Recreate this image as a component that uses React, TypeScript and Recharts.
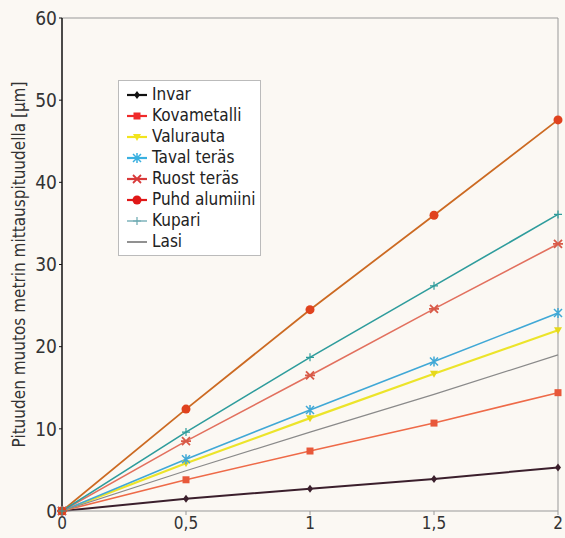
import { LineChart, Line, XAxis, YAxis, ReferenceLine } from 'recharts';

const xValues = [0, 0.5, 1, 1.5, 2];
const invar = [0, 1.5, 2.7, 3.9, 5.3];
const kovametalli = [0, 3.8, 7.3, 10.7, 14.4];
const valurauta = [0, 5.8, 11.3, 16.7, 22];
const tavalTeras = [0, 6.3, 12.3, 18.2, 24.1];
const ruostTeras = [0, 8.5, 16.5, 24.6, 32.5];
const puhdAlumiini = [0, 12.4, 24.5, 36, 47.6];
const kupari = [0, 9.6, 18.7, 27.4, 36.1];
const lasi = [0, 4.9, 9.6, 14.2, 19];
const yTicks = [0, 10, 20, 30, 40, 50, 60];

const data = xValues.map((x, i) => ({
  x,
  invar: invar[i],
  kovametalli: kovametalli[i],
  valurauta: valurauta[i],
  tavalTeras: tavalTeras[i],
  ruostTeras: ruostTeras[i],
  puhdAlumiini: puhdAlumiini[i],
  kupari: kupari[i],
  lasi: lasi[i],
}));

const FONT = '"DejaVu Sans Condensed", "Liberation Sans Narrow", Arial, sans-serif';

type Marker = 'diamond' | 'square' | 'tri' | 'x' | 'star' | 'circle' | 'plus' | 'none';

function drawMarker(kind: Marker, cx: number, cy: number, color: string, key?: string) {
  switch (kind) {
    case 'diamond':
      return <path key={key} d={`M${cx},${cy - 4}L${cx + 3},${cy}L${cx},${cy + 4}L${cx - 3},${cy}Z`} fill={color} />;
    case 'square':
      return <rect key={key} x={cx - 3.5} y={cy - 3.5} width={7} height={7} fill={color} />;
    case 'tri':
      return <path key={key} d={`M${cx - 4},${cy - 3}L${cx + 4},${cy - 3}L${cx},${cy + 4}Z`} fill={color} />;
    case 'x':
      return (
        <path key={key} d={`M${cx - 4},${cy - 4}L${cx + 4},${cy + 4}M${cx - 4},${cy + 4}L${cx + 4},${cy - 4}M${cx},${cy - 5}L${cx},${cy + 5}`} stroke={color} strokeWidth={1.5} fill="none" />
      );
    case 'star':
      return (
        <path key={key} d={`M${cx - 4},${cy - 4}L${cx + 4},${cy + 4}M${cx - 4},${cy + 4}L${cx + 4},${cy - 4}M${cx - 5},${cy}L${cx + 5},${cy}`} stroke={color} strokeWidth={1.8} fill="none" />
      );
    case 'circle':
      return <circle key={key} cx={cx} cy={cy} r={4.5} fill={color} />;
    case 'plus':
      return <path key={key} d={`M${cx - 4},${cy}L${cx + 4},${cy}M${cx},${cy - 4}L${cx},${cy + 4}`} stroke={color} strokeWidth={1.2} fill="none" />;
    default:
      return <g key={key} />;
  }
}

const series: { key: string; name: string; color: string; marker: Marker; markerColor: string; width: number }[] = [
  { key: 'invar', name: 'Invar', color: '#3b1f2c', marker: 'diamond', markerColor: '#3b1f2c', width: 2 },
  { key: 'kovametalli', name: 'Kovametalli', color: '#ee6a48', marker: 'square', markerColor: '#e8583a', width: 1.6 },
  { key: 'valurauta', name: 'Valurauta', color: '#ece42a', marker: 'tri', markerColor: '#e6d81a', width: 2.2 },
  { key: 'tavalTeras', name: 'Taval teräs', color: '#40a8d6', marker: 'x', markerColor: '#40a8d6', width: 1.6 },
  { key: 'ruostTeras', name: 'Ruost teräs', color: '#e2705e', marker: 'star', markerColor: '#d85a48', width: 1.6 },
  { key: 'puhdAlumiini', name: 'Puhd alumiini', color: '#cc6a22', marker: 'circle', markerColor: '#e0421e', width: 1.8 },
  { key: 'kupari', name: 'Kupari', color: '#2e9c9c', marker: 'plus', markerColor: '#2e9c9c', width: 1.6 },
  { key: 'lasi', name: 'Lasi', color: '#8a8a8a', marker: 'none', markerColor: '#8a8a8a', width: 1.2 },
];

const legendColors: Record<string, string> = {
  invar: '#111111',
  kovametalli: '#f02a2a',
  valurauta: '#f2e41e',
  tavalTeras: '#3ab0e0',
  ruostTeras: '#d83a3a',
  puhdAlumiini: '#e01818',
  kupari: '#6aa8b0',
  lasi: '#555555',
};

function LegendBox() {
  return (
    <div
      style={{
        position: 'absolute',
        left: 118,
        top: 80,
        background: '#ffffff',
        border: '1px solid #bbb',
        padding: '3px 4px 3px 6px',
        fontFamily: FONT,
        fontSize: 17,
        color: '#222',
        lineHeight: '21px',
        boxSizing: 'border-box',
      }}
    >
      {series.map((s) => (
        <div key={s.key} style={{ display: 'flex', alignItems: 'center', whiteSpace: 'nowrap' }}>
          <svg width={24} height={12} style={{ marginRight: 3, flex: 'none' }}>
            <line x1={2} y1={6} x2={22} y2={6} stroke={legendColors[s.key]} strokeWidth={s.key === 'kupari' || s.key === 'lasi' ? 1.3 : 2.2} />
            {drawMarker(s.marker, 12, 6, legendColors[s.key])}
          </svg>
          <span>{s.name}</span>
        </div>
      ))}
    </div>
  );
}

export default function App() {
  return (
    <div style={{ width: 565, height: 538, background: '#fbf8f3', position: 'relative' }}>
      <style>{'body{margin:0}'}</style>
      <LineChart width={565} height={538} data={data} margin={{ top: 18, right: 7, bottom: 0, left: 0 }}>
        <XAxis
          dataKey="x"
          type="number"
          domain={[0, 2]}
          ticks={xValues}
          tickFormatter={(v: number) => String(v).replace('.', ',')}
          height={27}
          axisLine={{ stroke: '#999' }}
          tickLine={{ stroke: '#999' }}
          tickSize={4}
          tick={{ fontFamily: FONT, fontSize: 17, fill: '#333' }}
        />
        <YAxis
          type="number"
          domain={[0, 60]}
          ticks={yTicks}
          width={62}
          axisLine={{ stroke: '#111', strokeWidth: 1.5 }}
          tickLine={{ stroke: '#111' }}
          tickSize={3}
          tick={{ fontFamily: FONT, fontSize: 19, fill: '#333' }}
          label={{
            value: 'Pituuden muutos metrin mittauspituudella [µm]',
            angle: -90,
            position: 'insideLeft',
            dx: 14,
            style: { fontFamily: FONT, fontSize: 17, fill: '#333', textAnchor: 'middle' },
          }}
        />
        <ReferenceLine y={60} stroke="#999" />
        <ReferenceLine x={2} stroke="#999" />
        {series.map((s) => (
          <Line
            key={s.key}
            type="linear"
            dataKey={s.key}
            name={s.name}
            stroke={s.color}
            strokeWidth={s.width}
            isAnimationActive={false}
            dot={(p: any) => drawMarker(s.marker, p.cx, p.cy, s.markerColor, `${s.key}-${p.index}`)}
            activeDot={false}
          />
        ))}
      </LineChart>
      <LegendBox />
    </div>
  );
}
